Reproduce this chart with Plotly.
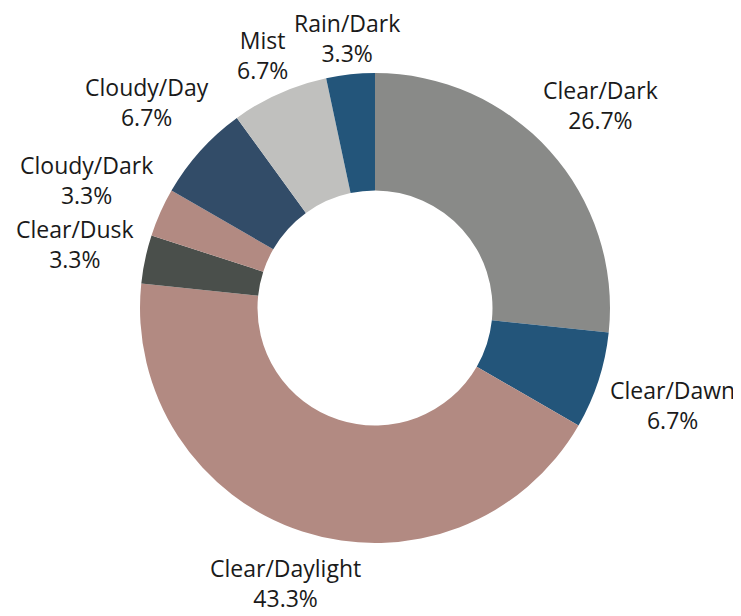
import math
import plotly.graph_objects as go

# ---- data ----
labels = ["Clear/Dark", "Clear/Dawn", "Clear/Daylight", "Clear/Dusk",
          "Cloudy/Dark", "Cloudy/Day", "Mist", "Rain/Dark"]
counts = [8, 2, 13, 1, 1, 2, 2, 1]

# ---- style ----
colors = ["#898a88", "#23557a", "#b28a82", "#4a4f4b",
          "#b28a82", "#324c68", "#c0c0be", "#23557a"]

FONT = "Open Sans, Noto Sans, sans-serif"
FS = 23
W, H = 741, 616
PLOT = 470                      # plot-area side -> pie radius = PLOT/2
ML, MT = 132, 65
XPAD = 9

# rough glyph widths (em) for estimating label box sizes
CW = {"C": .63, "D": .71, "R": .6, "M": .88, "l": .25, "i": .25, "e": .56,
      "a": .56, "r": .4, "y": .5, "g": .55, "h": .6, "t": .35, "o": .6,
      "u": .6, "d": .6, "w": .8, "n": .6, "s": .47, "k": .52, "/": .37,
      ".": .27, "%": .82}


def text_w(s):
    return sum(CW.get(c, .57) for c in s) * FS


total = sum(counts)
annotations = []
cum = 0
for lab, v in zip(labels, counts):
    pct = f"{100 * v / total:.1f}%"
    theta = math.radians(360 * (cum + v / 2) / total)
    cum += v
    ux, uy = math.sin(theta), math.cos(theta)   # uy positive = up
    w = max(text_w(lab), text_w(pct))
    half_h = 1.3 * FS
    d = abs(ux) * (w / 2 + XPAD) + abs(uy) * half_h
    annotations.append(dict(
        xref="paper", yref="paper",
        x=0.5 + 0.5 * ux, y=0.5 + 0.5 * uy,
        xshift=d * ux, yshift=d * uy,
        xanchor="center", yanchor="middle",
        text=f"{lab}<br>{pct}", showarrow=False, align="center",
        font=dict(family=FONT, size=FS, color="#1a1a1a"),
    ))

fig = go.Figure(go.Pie(
    labels=labels,
    values=counts,
    hole=0.5,
    sort=False,
    direction="clockwise",
    rotation=0,
    marker=dict(colors=colors, line=dict(width=0)),
    textinfo="none",
    showlegend=False,
))

fig.update_layout(
    width=W, height=H,
    margin=dict(l=ML, r=W - ML - PLOT, t=MT, b=H - MT - PLOT),
    paper_bgcolor="white",
    plot_bgcolor="white",
    annotations=annotations,
)

fig.write_html("out.html")
